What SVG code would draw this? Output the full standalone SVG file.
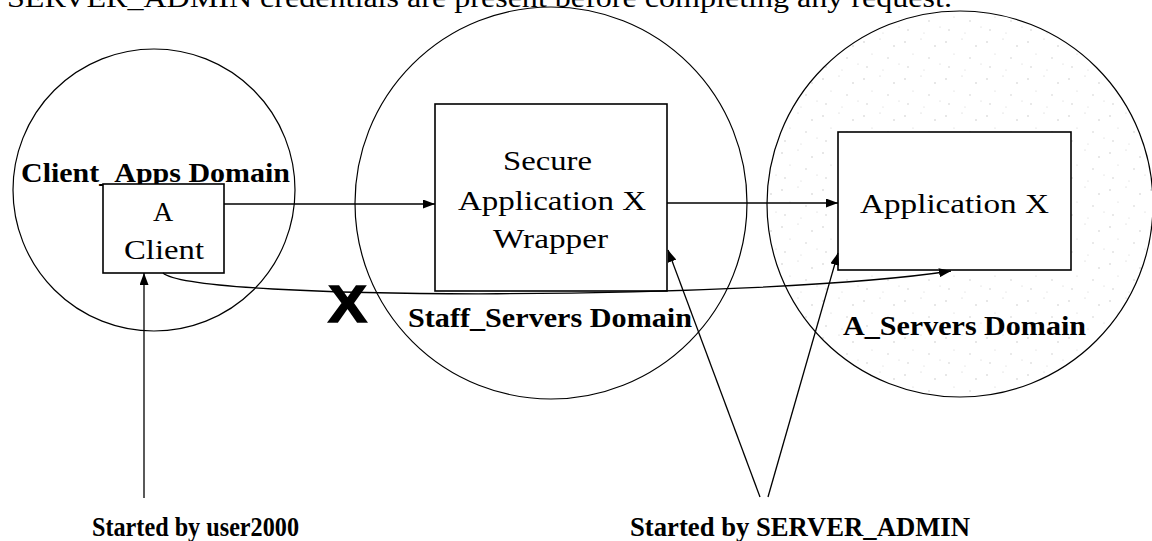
<svg xmlns="http://www.w3.org/2000/svg" width="1152" height="541" viewBox="0 0 1152 541">
  <defs>
    <style>
      .domain { fill: none; stroke: #000; stroke-width: 1.2; }
      .box { fill: #fff; stroke: #000; stroke-width: 1.6; }
      .reg { font-family: "Liberation Serif", "Times New Roman", serif; font-size: 28px; fill: #000; }
      .bold { font-family: "Liberation Serif", "Times New Roman", serif; font-size: 28px; font-weight: bold; fill: #000; }
      .conn { fill: none; stroke: #000; stroke-width: 1.3; }
    </style>
    <marker id="arrow" viewBox="0 0 12 9" refX="12" refY="4.5" markerWidth="12" markerHeight="9" markerUnits="userSpaceOnUse" orient="auto">
      <path d="M0,0 L12,4.5 L0,9 z" fill="#000"/>
    </marker>
    <!-- light speckle used to shade the A_Servers domain -->
    <pattern id="speckle" width="41" height="37" patternUnits="userSpaceOnUse">
      <circle cx="3" cy="5" r="0.7" fill="#bdbdbd"/>
      <circle cx="19" cy="2" r="0.6" fill="#c8c8c8"/>
      <circle cx="33" cy="9" r="0.7" fill="#bdbdbd"/>
      <circle cx="11" cy="17" r="0.6" fill="#cfcfcf"/>
      <circle cx="27" cy="21" r="0.7" fill="#c4c4c4"/>
      <circle cx="38" cy="27" r="0.6" fill="#cccccc"/>
      <circle cx="6" cy="30" r="0.7" fill="#c2c2c2"/>
      <circle cx="22" cy="33" r="0.6" fill="#d0d0d0"/>
    </pattern>
  </defs>

  <rect width="1152" height="541" fill="#fff"/>

  <!-- heading line, clipped at the top edge -->
  <text class="reg" x="7" y="6.5" textLength="945" lengthAdjust="spacingAndGlyphs">SERVER_ADMIN credentials are present before completing any request.</text>

  <!-- domains -->
  <g id="domain-client-apps">
    <circle class="domain" cx="154" cy="190" r="141"/>
    <text class="bold" x="21" y="182" textLength="269" lengthAdjust="spacingAndGlyphs">Client_Apps Domain</text>
  </g>
  <g id="domain-staff-servers">
    <circle class="domain" cx="551" cy="203" r="196"/>
    <text class="bold" x="408" y="327" textLength="284" lengthAdjust="spacingAndGlyphs">Staff_Servers Domain</text>
  </g>
  <g id="domain-a-servers">
    <circle cx="960" cy="204" r="193" fill="url(#speckle)" stroke="#000" stroke-width="1.2"/>
    <text class="bold" x="843" y="335" textLength="243" lengthAdjust="spacingAndGlyphs">A_Servers Domain</text>
  </g>

  <!-- nodes -->
  <g id="node-a-client">
    <rect class="box" x="103" y="184" width="121" height="89"/>
    <text class="reg" x="163" y="221" text-anchor="middle">A</text>
    <text class="reg" x="124" y="259" textLength="80" lengthAdjust="spacingAndGlyphs">Client</text>
  </g>
  <g id="node-secure-wrapper">
    <rect class="box" x="435" y="104" width="232" height="187"/>
    <text class="reg" x="503" y="170" textLength="89" lengthAdjust="spacingAndGlyphs">Secure</text>
    <text class="reg" x="458" y="210" textLength="188" lengthAdjust="spacingAndGlyphs">Application X</text>
    <text class="reg" x="493" y="248" textLength="115" lengthAdjust="spacingAndGlyphs">Wrapper</text>
  </g>
  <g id="node-application-x">
    <rect class="box" x="838" y="132" width="233" height="138"/>
    <text class="reg" x="860" y="213" textLength="189" lengthAdjust="spacingAndGlyphs">Application X</text>
  </g>

  <!-- launch labels -->
  <g id="label-user2000">
    <text class="bold" x="92" y="536" textLength="207" lengthAdjust="spacingAndGlyphs">Started by user2000</text>
  </g>
  <g id="label-server-admin">
    <text class="bold" x="630" y="536" textLength="340" lengthAdjust="spacingAndGlyphs">Started by SERVER_ADMIN</text>
  </g>

  <!-- connectors -->
  <g id="connectors">
    <line class="conn" x1="224" y1="204" x2="435" y2="204" marker-end="url(#arrow)"/>
    <line class="conn" x1="667" y1="203" x2="838" y2="203" marker-end="url(#arrow)"/>
    <path class="conn" d="M163,273 C195,302 760,300 951,271" marker-end="url(#arrow)"/>
    <line class="conn" x1="144" y1="498" x2="144" y2="273" marker-end="url(#arrow)"/>
    <line class="conn" x1="760" y1="497" x2="668" y2="250" marker-end="url(#arrow)"/>
    <line class="conn" x1="768" y1="497" x2="838" y2="253" marker-end="url(#arrow)"/>
  </g>

  <!-- blocked direct path -->
  <g id="blocked-mark">
    <text x="328" y="322" font-family="'Liberation Sans', Arial, sans-serif" font-weight="bold" font-size="52" stroke="#000" stroke-width="1.5" textLength="39" lengthAdjust="spacingAndGlyphs">X</text>
  </g>
</svg>
